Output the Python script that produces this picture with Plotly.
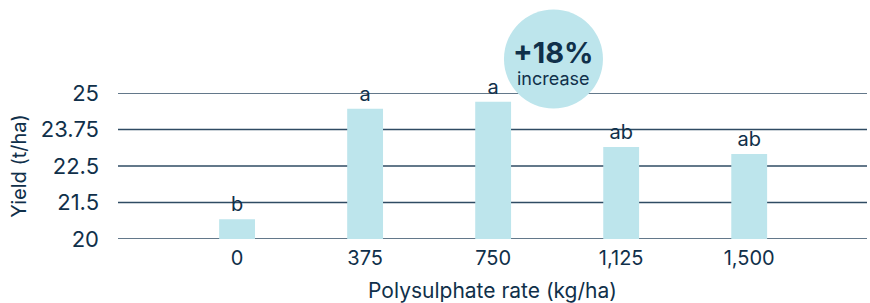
import plotly.graph_objects as go

categories = ["0", "375", "750", "1,125", "1,500"]
yield_values = [20.68, 24.46, 24.70, 23.15, 22.91]
significance = ["b", "a", "a", "ab", "ab"]
y_tick_vals = [20, 21.25, 22.5, 23.75, 25]
y_tick_text = ["20", "21.5", "22.5", "23.75", "25"]

navy = "#10304a"
grid = "#2f4b63"
bar_color = "#bde5ec"

fig = go.Figure()
fig.add_trace(go.Bar(
    x=categories, y=yield_values, base=0,
    marker=dict(color=bar_color, line=dict(width=0)),
    width=0.28,
    text=significance, textposition="outside", cliponaxis=False,
    textfont=dict(size=20, color=navy, family="Inter"),
    hoverinfo="skip",
))

# horizontal grid lines at each tick value
for v in y_tick_vals:
    fig.add_shape(type="line", xref="paper", yref="y", x0=0, x1=1, y0=v, y1=v,
                  line=dict(color=grid, width=1.3), layer="below")

fig.add_shape(type="circle", xref="paper", yref="paper",
              xsizemode="pixel", ysizemode="pixel",
              xanchor=0.5814, yanchor=1.2325,
              x0=-49.5, x1=49.5, y0=-49.5, y1=49.5,
              fillcolor=bar_color, line=dict(width=0), layer="above")
fig.add_annotation(xref="paper", yref="paper", x=0.5814, y=1.2325, yshift=7,
                   xanchor="center", yanchor="middle",
                   text="<b>+18%</b>", showarrow=False,
                   font=dict(size=29, color=navy, family="Inter"))
fig.add_annotation(xref="paper", yref="paper", x=0.5814, y=1.2325, yshift=-19,
                   xanchor="center", yanchor="middle",
                   text="increase", showarrow=False,
                   font=dict(size=18, color=navy, family="Inter"))

fig.update_layout(
    width=870, height=303,
    margin=dict(l=118, r=3, t=93, b=64),
    paper_bgcolor="white", plot_bgcolor="white",
    showlegend=False,
    font=dict(family="Inter", color=navy, size=20),
    xaxis=dict(range=[-0.93, 4.92], showgrid=False, showline=False, zeroline=False,
               automargin=False,
               ticks="", tickfont=dict(size=20, color=navy), ticklabelstandoff=5,
               title=dict(text="Polysulphate rate (kg/ha)", standoff=16,
                          font=dict(size=21, color=navy))),
    yaxis=dict(range=[20, 25], tickvals=y_tick_vals, ticktext=y_tick_text,
               automargin=False,
               showgrid=False, zeroline=False,
               showline=False, ticks="", ticklabelstandoff=18,
               tickfont=dict(size=22, color=navy),
               title=dict(text="Yield (t/ha)", standoff=8,
                          font=dict(size=20, color=navy))),
)
fig.write_html("out.html", config={"displayModeBar": False},
               post_script="document.body.style.margin='0';document.body.style.overflow='hidden';")
